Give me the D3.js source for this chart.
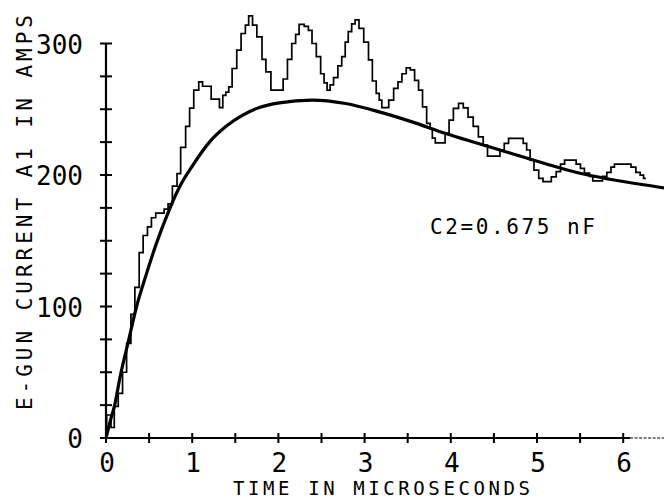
<!DOCTYPE html>
<html><head><meta charset="utf-8">
<script src="https://d3js.org/d3.v7.min.js"></script>
<style>body{margin:0;background:#fff}svg{display:block}</style>
</head><body><svg id="c" width="664" height="500"></svg>
<script>
// Measured oscillating current (step trace): time in µs where each step starts, value in A
const stepTimes = [0,0.008,0.058,0.096,0.142,0.192,0.239,0.289,0.335,0.385,0.431,0.481,0.527,0.577,0.674,0.72,0.77,0.824,0.866,0.924,0.97,1.018,1.076,1.12,1.22,1.316,1.355,1.39,1.424,1.463,1.517,1.567,1.617,1.655,1.70,1.75,1.81,1.855,1.913,2.055,2.105,2.155,2.20,2.24,2.30,2.348,2.39,2.44,2.49,2.53,2.565,2.60,2.64,2.69,2.735,2.775,2.81,2.85,2.89,2.935,2.99,3.045,3.09,3.135,3.17,3.2,3.28,3.337,3.387,3.433,3.483,3.53,3.58,3.626,3.672,3.72,3.76,3.786,3.82,3.934,3.98,4.03,4.09,4.145,4.2,4.26,4.32,4.376,4.426,4.57,4.62,4.67,4.84,4.88,4.92,4.965,5.02,5.07,5.166,5.223,5.273,5.32,5.454,5.504,5.55,5.61,5.647,5.76,5.81,5.858,5.898,6.09,6.147,6.197,6.236,6.263];
const stepValues = [0,17.5,8,24,34,50,72,94,114.5,141,154,160.5,167.5,171,174,178,191.5,201,221,237,250.8,264.5,270.8,267.5,257.7,251.3,260.5,263,267,281,295,307.6,314,321,314,305,288,278.4,264.5,273,288,300,307,314.5,313,310,300,290,277,270,264.5,268.5,274,283,290,301,309,315,318,311.5,301,287.5,271.5,262,257,251.3,257,265.8,270.8,277,281.5,280,272,264.5,251.8,239.2,235,228,224.5,231.6,241.7,250.6,254.4,251,244,237,229,222.7,214.3,219,224,227.8,224,219,211.3,203.7,197.4,195,198.6,202.5,208.3,211.3,208.3,205,201.4,198.9,195.6,198.9,202,206,208.3,206,202,199.9,197.4,197.4];
// Model current (smooth curve)
const modelTimes = [0,0.05,0.104,0.162,0.258,0.354,0.47,0.585,0.70,0.854,1.008,1.2,1.393,1.586,1.778,2.01,2.394,2.78,3.17,3.55,3.94,4.32,4.704,5.09,5.474,5.86,6.44,6.6];
const modelValues = [0,13,26,46,73,99.8,125,148,168,191,207.5,225,237,245.5,251.3,254.9,257,254.4,248,240.4,231.6,224,216.4,208.8,201.7,196.6,190.5,188.8];
const xTickLabels = [0,1,2,3,4,5,6];
const yTickLabels = [0,100,200,300];
const annotation = "C2=0.675 nF";
const xTitle = "TIME IN MICROSECONDS";
const yTitle = "E-GUN CURRENT A1 IN AMPS";

const svg = d3.select("#c");
const x = d3.scaleLinear().domain([0,6.5]).range([106,666.3]);
const y = d3.scaleLinear().domain([0,300]).range([438,43.5]);
const mono = "'DejaVu Sans Mono', monospace";

// axes
const g = svg.append("g").attr("stroke","#000").attr("fill","none");
g.append("line").attr("x1",x(0)).attr("x2",x(6.08)).attr("y1",y(0)).attr("y2",y(0)).attr("stroke-width",2.2);
g.append("line").attr("x1",x(6.08)).attr("x2",664).attr("y1",y(0)).attr("y2",y(0)).attr("stroke-width",1.2).attr("stroke-dasharray","3,1.5");
g.append("line").attr("x1",x(0)).attr("x2",x(0)).attr("y1",y(0)).attr("y2",y(300)).attr("stroke-width",2.2);
g.selectAll(".xt").data(d3.range(0,6.01,0.5)).join("line")
  .attr("x1",d=>x(d)).attr("x2",d=>x(d)).attr("y1",y(0)-5).attr("y2",y(0)+5).attr("stroke-width",2);
g.selectAll(".yt").data(d3.range(0,301,25)).join("line")
  .attr("x1",x(0)-6).attr("x2",x(0)+6).attr("y1",d=>y(d)).attr("y2",d=>y(d)).attr("stroke-width",2);

// tick labels
svg.selectAll(".xl").data(xTickLabels).join("text")
  .attr("x",d=>x(d)+1).attr("y",472).attr("text-anchor","middle")
  .attr("font-family",mono).attr("font-size",26).attr("fill","#000").text(d=>d);
svg.selectAll(".yl").data(yTickLabels).join("text")
  .attr("x",83).attr("y",d=>y(d)+10).attr("text-anchor","end")
  .attr("font-family",mono).attr("font-size",26).attr("fill","#000").text(d=>d);

// titles
svg.append("text").attr("x",233).attr("y",495).attr("textLength",297).attr("lengthAdjust","spacing")
  .attr("font-family",mono).attr("font-size",19).attr("fill","#000").text(xTitle);
svg.append("text").attr("transform","translate(32,410) rotate(-90)").attr("textLength",395).attr("lengthAdjust","spacing")
  .attr("font-family",mono).attr("font-size",21).attr("fill","#000").text(yTitle);
svg.append("text").attr("x",430).attr("y",234).attr("textLength",165).attr("lengthAdjust","spacing")
  .attr("font-family",mono).attr("font-size",21).attr("fill","#000").text(annotation);

// data
const stepData = stepTimes.map((t,i)=>[t,stepValues[i]]);
const modelData = modelTimes.map((t,i)=>[t,modelValues[i]]);
svg.append("defs").append("clipPath").attr("id","clip").append("rect").attr("x",x(0)).attr("y",0).attr("width",664-x(0)).attr("height",y(0)+1);
svg.append("path").datum(stepData).attr("clip-path","url(#clip)")
  .attr("d",d3.line().x(d=>x(d[0])).y(d=>y(d[1])).curve(d3.curveStepAfter))
  .attr("fill","none").attr("stroke","#000").attr("stroke-width",1.7);
svg.append("path").datum(modelData).attr("clip-path","url(#clip)")
  .attr("d",d3.line().x(d=>x(d[0])).y(d=>y(d[1])).curve(d3.curveMonotoneX))
  .attr("fill","none").attr("stroke","#000").attr("stroke-width",3.2);
</script></body></html>
